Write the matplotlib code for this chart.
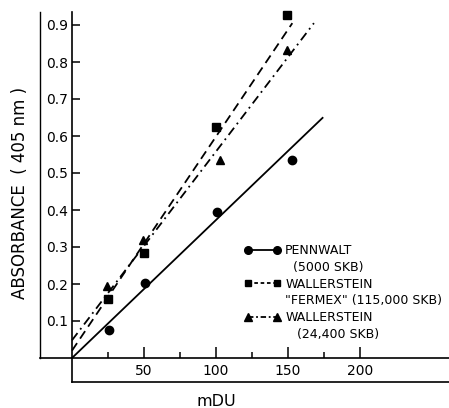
import matplotlib.pyplot as plt
from matplotlib.lines import Line2D

# data
penn_x = [26, 51, 101, 153]
penn_y = [0.076, 0.203, 0.395, 0.535]
ferm_x = [25, 50, 100, 149]
ferm_y = [0.160, 0.284, 0.624, 0.927]
wall_x = [24, 49, 103, 149]
wall_y = [0.195, 0.319, 0.535, 0.832]

# fitted lines (start / end) as drawn
penn_fit_x = [0, 174]
penn_fit_y = [0.0, 0.649]
ferm_fit_x = [0, 153]
ferm_fit_y = [0.02, 0.905]
wall_fit_x = [0, 168]
wall_fit_y = [0.048, 0.905]

W, H = 449, 408
fig = plt.figure(figsize=(W / 100, H / 100), dpi=100)
x0, x1, y0, y1 = 40, 449, 12, 358  # axes box in pixels
ax = fig.add_axes([x0 / W, 1 - y1 / H, (x1 - x0) / W, (y1 - y0) / H])

px = 50 / 72.0  # data units per pixel on x
ax.set_xlim((x0 - 72) * px, (x1 - 72) * px)
ax.set_ylim(0, (y1 - y0) / 370.0)

lw = 1.3
ax.plot(penn_fit_x, penn_fit_y, color='black', lw=lw)
ax.plot(ferm_fit_x, ferm_fit_y, color='black', lw=lw, linestyle=(0, (5, 3)))
ax.plot(wall_fit_x, wall_fit_y, color='black', lw=lw, linestyle=(0, (5, 2.5, 1, 2.5)))
ax.plot(penn_x, penn_y, 'o', color='black', ms=6, clip_on=False)
ax.plot(ferm_x, ferm_y, 's', color='black', ms=5.8, clip_on=False)
ax.plot(wall_x, wall_y, '^', color='black', ms=6.2, clip_on=False)

for s in ['top', 'right']:
    ax.spines[s].set_visible(False)
ax.spines['left'].set_position(('data', 0))
for s in ['left', 'bottom']:
    ax.spines[s].set_linewidth(1.2)

ax.set_yticks([0.1, 0.2, 0.3, 0.4, 0.5, 0.6, 0.7, 0.8, 0.9])
ax.set_yticklabels(['0.1', '0.2', '0.3', '0.4', '0.5', '0.6', '0.7', '0.8', '0.9'])
ax.set_xticks([50, 100, 150, 200])
ax.set_xticks([25, 75, 125, 175], minor=True)
ax.tick_params(axis='y', direction='in', length=6, width=1.1, pad=3, labelsize=10)
ax.tick_params(axis='x', which='major', direction='in', length=8, width=1.1, pad=4, labelsize=10)
ax.tick_params(axis='x', which='minor', direction='in', length=4, width=1.1)

# frame lines of the original figure
ax.plot([0, 0], [0, 1], transform=ax.transAxes, color='black', lw=1.0, clip_on=False)
xa = (72 - x0) / (x1 - x0)
yb = -(382 - y1) / (y1 - y0)
ax.plot([xa, 1], [yb, yb], transform=ax.transAxes, color='black', lw=1.2, clip_on=False)
ax.plot([xa, xa], [0, yb], transform=ax.transAxes, color='black', lw=1.2, clip_on=False)

fig.text(216 / W, 1 - 401 / H, 'mDU', ha='center', va='center', fontsize=11.5)
fig.text(20 / W, 1 - 193 / H, 'ABSORBANCE  ( 405 nm )', ha='center', va='center',
         rotation=90, fontsize=12)

# legend
blank = Line2D([], [], linestyle='none')
handles = [
    Line2D([], [], color='black', lw=lw, marker='o', ms=5.5),
    blank,
    Line2D([], [], color='black', lw=lw, marker='s', ms=5, linestyle=(0, (2, 1.5))),
    blank,
    Line2D([], [], color='black', lw=lw, marker='^', ms=5.5, linestyle=(0, (3, 1.5, 1, 1.5))),
    blank,
]
labels = ['PENNWALT', '  (5000 SKB)', 'WALLERSTEIN', '"FERMEX" (115,000 SKB)',
          'WALLERSTEIN', '   (24,400 SKB)']
ax.legend(handles, labels, numpoints=2, frameon=False, fontsize=9,
          handlelength=2.9, handletextpad=0.4, labelspacing=0.3, borderpad=0,
          borderaxespad=0, loc='upper left',
          bbox_to_anchor=(244 / W, 1 - 244 / H), bbox_transform=fig.transFigure)

fig.savefig('out.png', dpi=100)
